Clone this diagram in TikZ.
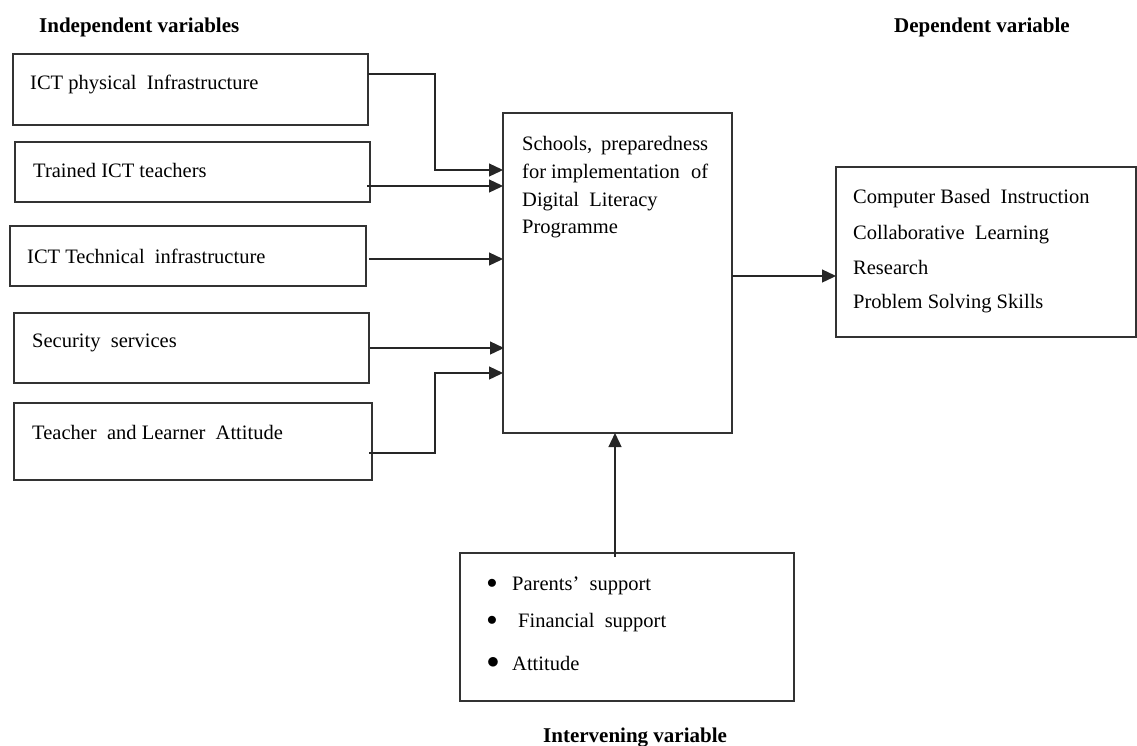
\documentclass[tikz,border=0pt]{standalone}
\usepackage{fontspec}
\setmainfont{Liberation Serif}
\usetikzlibrary{arrows.meta,calc}
\begin{document}
\begin{tikzpicture}[x=1pt,y=-1pt,
  box/.style={draw=black!80,line width=1.3pt,inner sep=0pt,outer sep=0pt,anchor=north west},
  txt/.style={inner sep=0pt,anchor=base west,font=\fontsize{20.5}{24}\selectfont},
  head/.style={inner sep=0pt,anchor=base west,font=\fontsize{21}{24}\selectfont\bfseries},
  arr/.style={draw=black!85,line width=1.3pt,-{Triangle[length=14pt,width=13pt]}},
  bul/.style={inner sep=0pt,anchor=center}]
\useasboundingbox (0,0) rectangle (1137,745);
% headers
\node[head] (h1) at (39,32) {Independent variables};
\node[head] (h2) at (894,32) {Dependent variable};
\node[head] (h3) at (543,742) {Intervening variable};
% left boxes
\node[box,minimum width=355pt,minimum height=71pt] (b1) at (13,54) {};
\node[box,minimum width=355pt,minimum height=60pt] (b2) at (15,142) {};
\node[box,minimum width=356pt,minimum height=60pt] (b3) at (10,226) {};
\node[box,minimum width=355pt,minimum height=70pt] (b4) at (14,313) {};
\node[box,minimum width=358pt,minimum height=77pt] (b5) at (14,403) {};
\node[txt] (t1) at (30,89) {ICT physical \ Infrastructure};
\node[txt] (t2) at (33,177) {Trained ICT teachers};
\node[txt] (t3) at (27,263) {ICT Technical \ infrastructure};
\node[txt] (t4) at (32,347) {Security \ services};
\node[txt] (t5) at (32,439) {Teacher \ and Learner \ Attitude};
% centre box
\node[box,minimum width=229pt,minimum height=320pt] (c) at (503,113) {};
\node[txt] (ct1) at (522,150) {\hbox to 186pt{Schools,\hfill preparedness}};
\node[txt] (ct2) at (522,178) {\hbox to 186pt{for implementation\hfill of}};
\node[txt] (ct3) at (522,206) {Digital \ Literacy};
\node[txt] (ct4) at (522,233) {Programme};
% right box
\node[box,minimum width=300pt,minimum height=170pt] (r) at (836,167) {};
\node[txt] (rt1) at (853,203) {Computer Based \ Instruction};
\node[txt] (rt2) at (853,239) {Collaborative \ Learning};
\node[txt] (rt3) at (853,274) {Research};
\node[txt] (rt4) at (853,308) {Problem Solving Skills};
% intervening box
\node[box,minimum width=334pt,minimum height=148pt] (i) at (460,553) {};
\node[bul,font=\fontsize{20}{24}\selectfont] (bu1) at (492,584) {$\bullet$};
\node[bul,font=\fontsize{20}{24}\selectfont] (bu2) at (492,621) {$\bullet$};
\node[bul,font=\fontsize{30}{34}\selectfont] (bu3) at (493,663) {$\bullet$};
\node[txt] (it1) at (512,590) {Parents' \ support};
\node[txt] (it2) at (518,627) {Financial \ support};
\node[txt] (it3) at (512,670) {Attitude};
% connectors
\coordinate (k1) at (435,170);
\coordinate (k5) at (435,373);
\draw[arr] ($(b1.north east)+(0,20)$) -| (k1) -- ($(c.north west)+(0,57)$);
\draw[arr] ($(b2.north east)+(-3,44)$) -- ($(c.north west)+(0,73)$);
\draw[arr] ($(b3.north east)+(3,33)$) -- ($(c.north west)+(0,146)$);
\draw[arr] ($(b4.north east)+(1,35)$) -- ($(c.north west)+(1,235)$);
\draw[arr] ($(b5.north east)+(-3,50)$) -| (k5) -- ($(c.north west)+(0,260)$);
\draw[arr] ($(c.north east)+(0,163)$) -- ($(r.north west)+(0,109)$);
\draw[arr] ($(i.north west)+(155,4)$) -- ($(c.south west)+(112,0)$);
\end{tikzpicture}
\end{document}
